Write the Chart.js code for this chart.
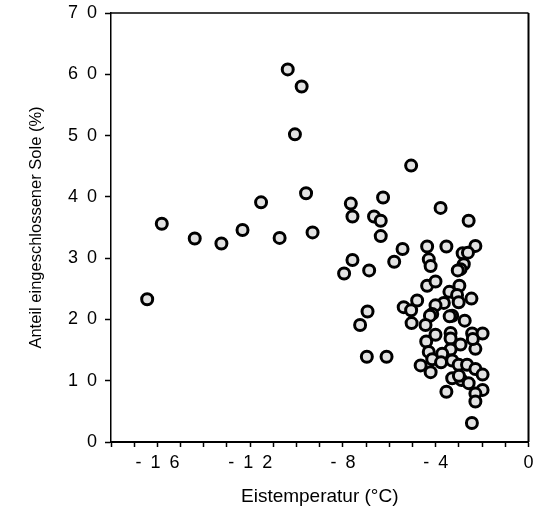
<!DOCTYPE html>
<html>
<head>
<meta charset="utf-8">
<script src="https://cdn.jsdelivr.net/npm/chart.js@4/dist/chart.umd.min.js"></script>
<style>
  html, body { margin: 0; padding: 0; background: #fff; }
</style>
</head>
<body>
<canvas id="myChart" width="537" height="516"></canvas>
<script>
// ice temperature (°C) and share of enclosed brine (%)
var tempC = [
    -16.44, -15.81, -14.39, -13.24, -12.33, -11.53, -10.73, -10.38, -10.07, -9.78, -9.59, -9.31,
    -7.95, -7.66, -7.59, -7.59, -6.87, -6.94, -7.26, -6.97, -6.12, -6.66, -6.37, -6.27, -6.37,
    -5.79, -5.43, -5.06, -5.38, -5.06, -4.80, -5.04, -3.79, -2.58,
    -4.37, -3.54, -2.29, -2.84, -2.61, -4.30, -4.22, -2.79, -2.93, -3.05,
    -4.37, -4.01, -2.98, -3.41, -3.08, -2.46, -3.01, -3.65, -4.01, -4.15, -4.25, -3.29, -3.40,
    -2.75, -4.44, -4.01, -3.36, -3.36, -2.43, -1.98, -4.41, -2.93, -2.29, -3.36, -4.30, -3.72,
    -4.15, -3.29, -3.77, -3.01, -2.65, -4.65, -4.22, -2.29, -1.98, -3.29, -2.89, -2.58, -3.54,
    -1.98, -2.29, -2.29, -2.44, -3.00, -2.40
];
var brineShare = [
    23.3, 35.6, 33.2, 32.4, 34.6, 39.1, 33.3, 60.8, 50.2, 58.0, 40.6, 34.2,
    27.5, 38.9, 36.8, 29.7, 28.0, 21.3, 19.1, 13.9, 13.9, 36.8, 36.1, 39.9, 33.6,
    29.4, 31.5, 45.1, 22.0, 21.5, 23.1, 19.4, 38.2, 36.1,
    31.9, 31.9, 32.0, 30.8, 30.9, 29.8, 28.7, 29.0, 28.2, 28.0,
    25.5, 26.2, 25.5, 24.5, 24.0, 23.4, 22.8, 22.7, 22.3, 20.9, 20.6, 20.6, 20.5,
    19.8, 19.1, 17.5, 17.8, 16.9, 17.7, 17.7, 16.4, 15.9, 15.2, 15.1, 14.7, 14.4,
    13.5, 13.3, 13.0, 12.6, 12.6, 12.5, 11.4, 11.9, 11.0, 10.4, 10.1, 9.6, 8.2,
    8.5, 7.9, 6.6, 3.1, 10.8, 16.8
];
// wide-tracked labels, as in the printed figure (en spaces)
var xLabels = {'-16': '-\u20021\u20026', '-12': '-\u20021\u20022', '-8': '-\u20028', '-4': '-\u20024', '0': '0'};
var yLabels = ['0', '1\u20020', '2\u20020', '3\u20020', '4\u20020', '5\u20020', '6\u20020', '7\u20020'];

var points = [];
for (var i = 0; i < tempC.length; i++) {
    points.push({x: tempC[i], y: brineShare[i]});
}

var frame = {
    id: 'frame',
    afterDraw: function (chart) {
        var a = chart.chartArea, ctx = chart.ctx;
        ctx.save();
        ctx.strokeStyle = '#000';
        ctx.lineWidth = 1.5;
        ctx.beginPath();
        ctx.moveTo(a.left, a.top);
        ctx.lineTo(a.right, a.top);
        ctx.stroke();
        ctx.lineWidth = 2;
        ctx.beginPath();
        ctx.moveTo(a.right, a.top);
        ctx.lineTo(a.right, a.bottom);
        ctx.stroke();
        ctx.restore();
    }
};

var font = "'Liberation Sans', Arial, Helvetica, sans-serif";

new Chart(document.getElementById('myChart'), {
    type: 'scatter',
    data: {
        datasets: [{
            data: points,
            pointRadius: 5.5,
            pointBorderWidth: 3,
            pointBorderColor: '#000',
            pointBackgroundColor: '#e2e2e2'
        }]
    },
    options: {
        responsive: false,
        animation: false,
        devicePixelRatio: 1,
        layout: {padding: {left: 0, right: 7, top: 13, bottom: 0}},
        plugins: {legend: {display: false}, tooltip: {enabled: false}},
        scales: {
            x: {
                type: 'linear',
                min: -18,
                max: 0,
                afterFit: function (s) {
                    s.height = 74;
                    s.paddingLeft = 0;
                    s.paddingRight = 0;
                },
                border: {color: '#000', width: 2},
                grid: {display: true, drawOnChartArea: false, color: '#000', tickLength: 5, tickWidth: 1.5},
                ticks: {
                    stepSize: 1,
                    autoSkip: false,
                    maxRotation: 0,
                    minRotation: 0,
                    padding: 5,
                    color: '#000',
                    font: {family: font, size: 18},
                    callback: function (v) {
                        return xLabels[String(v)] || '';
                    }
                },
                title: {
                    display: true,
                    text: 'Eistemperatur (°C)',
                    color: '#000',
                    font: {family: font, size: 19},
                    padding: {top: 0, bottom: 8}
                }
            },
            y: {
                min: 0,
                max: 70,
                afterFit: function (s) {
                    s.width = 111;
                    s.paddingTop = 0;
                    s.paddingBottom = 0;
                },
                border: {color: '#000', width: 1.5},
                grid: {display: true, drawOnChartArea: false, color: '#000', tickLength: 6, tickWidth: 1.5},
                ticks: {
                    stepSize: 10,
                    padding: 8,
                    color: '#000',
                    font: {family: font, size: 18},
                    callback: function (v) { return yLabels[v / 10]; }
                },
                title: {
                    display: true,
                    text: 'Anteil eingeschlossener Sole (%)',
                    color: '#000',
                    font: {family: font, size: 16.5},
                    padding: {top: 27, bottom: 0}
                }
            }
        }
    },
    plugins: [frame]
});
</script>
</body>
</html>
